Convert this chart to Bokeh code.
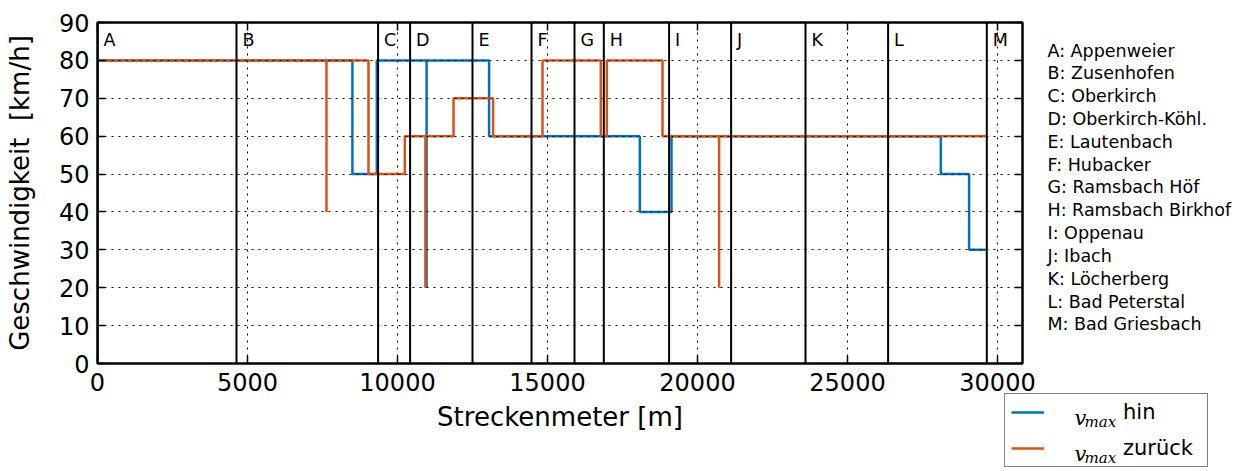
from bokeh.plotting import figure
from bokeh.layouts import row
from bokeh.models import (FixedTicker, LinearAxis, Range1d, Legend,
                          LegendItem, ColumnDataSource)
from bokeh.core.properties import value
from bokeh.embed import file_html
from bokeh.resources import INLINE

# ---------------- data ----------------
hin_x = [0, 8497, 9310, 10970, 10970, 13053, 18077, 19133, 28110, 29053, 29643]
hin_v = [80, 50, 80, 20, 80, 60, 40, 60, 50, 30, 30]

rueck_x = [0, 7633, 7633, 9033, 10243, 10930, 10930, 11867, 13187, 14833,
           16777, 16977, 18833, 20720, 20720, 29643]
rueck_v = [80, 40, 80, 50, 60, 20, 60, 70, 60, 80, 60, 80, 60, 20, 60, 60]

station_letters = ["A", "B", "C", "D", "E", "F", "G", "H", "I", "J", "K", "L", "M"]
station_x = [0, 4633, 9353, 10420, 12500, 14467, 15900, 16877, 19053, 21120,
             23600, 26353, 29643]
station_names = ["Appenweier", "Zusenhofen", "Oberkirch", "Oberkirch-Köhl.",
                 "Lautenbach", "Hubacker", "Ramsbach Höf", "Ramsbach Birkhof",
                 "Oppenau", "Ibach", "Löcherberg", "Bad Peterstal", "Bad Griesbach"]

series_labels = ["hin", "zurück"]

x_ticks = [0, 5000, 10000, 15000, 20000, 25000, 30000]
y_ticks = [0, 10, 20, 30, 40, 50, 60, 70, 80, 90]

BLUE = "#0072BD"
ORANGE = "#D95319"
FONT = "DejaVu Sans"
H = 471

# ---------------- main figure ----------------
p = figure(width=1036, height=H,
           x_range=Range1d(0, 30833), y_range=Range1d(0, 90),
           min_border_left=97, min_border_right=14,
           min_border_top=22, min_border_bottom=108,
           output_backend="svg", toolbar_location=None,
           x_axis_label="Streckenmeter [m]",
           y_axis_label="Geschwindigkeit\u00a0 [km/h]")
p.frame_align = False
p.outline_line_color = "black"
p.outline_line_width = 2
p.background_fill_color = "white"
p.border_fill_color = "white"

for ax, ticks in ((p.xaxis[0], x_ticks), (p.yaxis[0], y_ticks)):
    ax.ticker = FixedTicker(ticks=ticks)
    ax.major_tick_in = 8
    ax.major_tick_out = 0
    ax.minor_tick_line_color = None
    ax.major_tick_line_width = 1.5
    ax.axis_line_width = 2
    ax.major_label_text_font = FONT
    ax.major_label_text_font_size = "24px"
    ax.major_label_text_color = "black"
    ax.axis_label_text_font = FONT
    ax.axis_label_text_font_style = "normal"
    ax.axis_label_text_font_size = "26px"
    ax.axis_label_text_color = "black"
    ax.major_label_standoff = 8

p.xaxis[0].major_label_standoff = 9
p.xaxis[0].axis_label_standoff = 8
p.yaxis[0].axis_label_standoff = 21

for loc, ticks in (("above", x_ticks), ("right", y_ticks)):
    ax = LinearAxis(ticker=FixedTicker(ticks=ticks),
                    major_label_text_font_size="1px",
                    major_label_text_color=None,
                    major_label_standoff=0,
                    major_tick_in=8, major_tick_out=0,
                    major_tick_line_width=1.5,
                    minor_tick_line_color=None, axis_line_width=2)
    p.add_layout(ax, loc)

p.xgrid.ticker = FixedTicker(ticks=x_ticks)
p.ygrid.ticker = FixedTicker(ticks=y_ticks)
for g in (p.xgrid[0], p.ygrid[0]):
    g.grid_line_color = "black"
    g.grid_line_dash = "2 5"
    g.grid_line_width = 1
    g.level = "annotation"

p.step(hin_x, hin_v, mode="after", line_color=BLUE, line_width=2.5)
p.step(rueck_x, rueck_v, mode="after", line_color=ORANGE, line_width=2.5)

st = ColumnDataSource(dict(x=station_x, letter=station_letters))
p.segment(x0="x", y0=0, x1="x", y1=90, source=st, line_color="black", line_width=2)
p.text(x="x", y=84, text="letter", source=st, x_offset=6, y_offset=-5,
       text_font=value(FONT), text_font_size="17.5px",
       text_baseline="alphabetic", text_align="left", text_color="black")

# ---------------- side panel: station list + legend ----------------
W2 = 237
q = figure(width=W2, height=H, x_range=Range1d(0, W2), y_range=Range1d(H, 0),
           min_border=0, output_backend="svg", toolbar_location=None)
q.margin = (0, 0, 0, -33)
q.frame_align = False
q.axis.visible = False
q.grid.visible = False
q.outline_line_color = None
q.background_fill_alpha = 0
q.border_fill_alpha = 0

list_src = ColumnDataSource(dict(
    x=[44] * len(station_names),
    y=[56 + 22.83 * i for i in range(len(station_names))],
    t=[f"{l}: {n}" for l, n in zip(station_letters, station_names)]))
q.text(x="x", y="y", text="t", source=list_src, text_font=value(FONT),
       text_font_size="17.5px", text_baseline="alphabetic", text_align="left",
       text_color="black", y_offset=-6)

# legend entries: the same series, mapped to ranges that lie outside this panel
q.extra_x_ranges = {"off": Range1d(-40000, -30000)}
q.extra_y_ranges = {"off": Range1d(200, 300)}
lh = q.step(hin_x, hin_v, mode="after", line_color=BLUE, line_width=2.5,
            x_range_name="off", y_range_name="off")
lr = q.step(rueck_x, rueck_v, mode="after", line_color=ORANGE, line_width=2.5,
            x_range_name="off", y_range_name="off")
legend = Legend(items=[LegendItem(label=series_labels[0], renderers=[lh]),
                       LegendItem(label=series_labels[1], renderers=[lr])],
                location=(1, 4), orientation="vertical", margin=0,
                padding=6, spacing=12, glyph_width=33, glyph_height=24,
                label_height=24, label_standoff=79, label_width=78,
                label_text_font=FONT, label_text_font_size="21px",
                label_text_color="black",
                border_line_color="black", border_line_width=1.5,
                background_fill_alpha=0)
q.add_layout(legend)

# math-style "v_max" in front of each legend label
row_y = [413, 449]
rv = q.text(x=[71, 71], y=[ry + 4 for ry in row_y], text=["v", "v"],
            text_font=value("DejaVu Serif"), text_font_style="italic",
            text_font_size="21px", text_baseline="alphabetic", text_color="black")
rm = q.text(x=[81, 81], y=[ry + 8 for ry in row_y], text=["max", "max"],
            text_font=value("DejaVu Serif"), text_font_style="italic",
            text_font_size="15px", text_baseline="alphabetic", text_color="black")
rv.level = "overlay"
rm.level = "overlay"

layout = row(p, q)
open("out.html", "w").write(file_html(layout, INLINE))
